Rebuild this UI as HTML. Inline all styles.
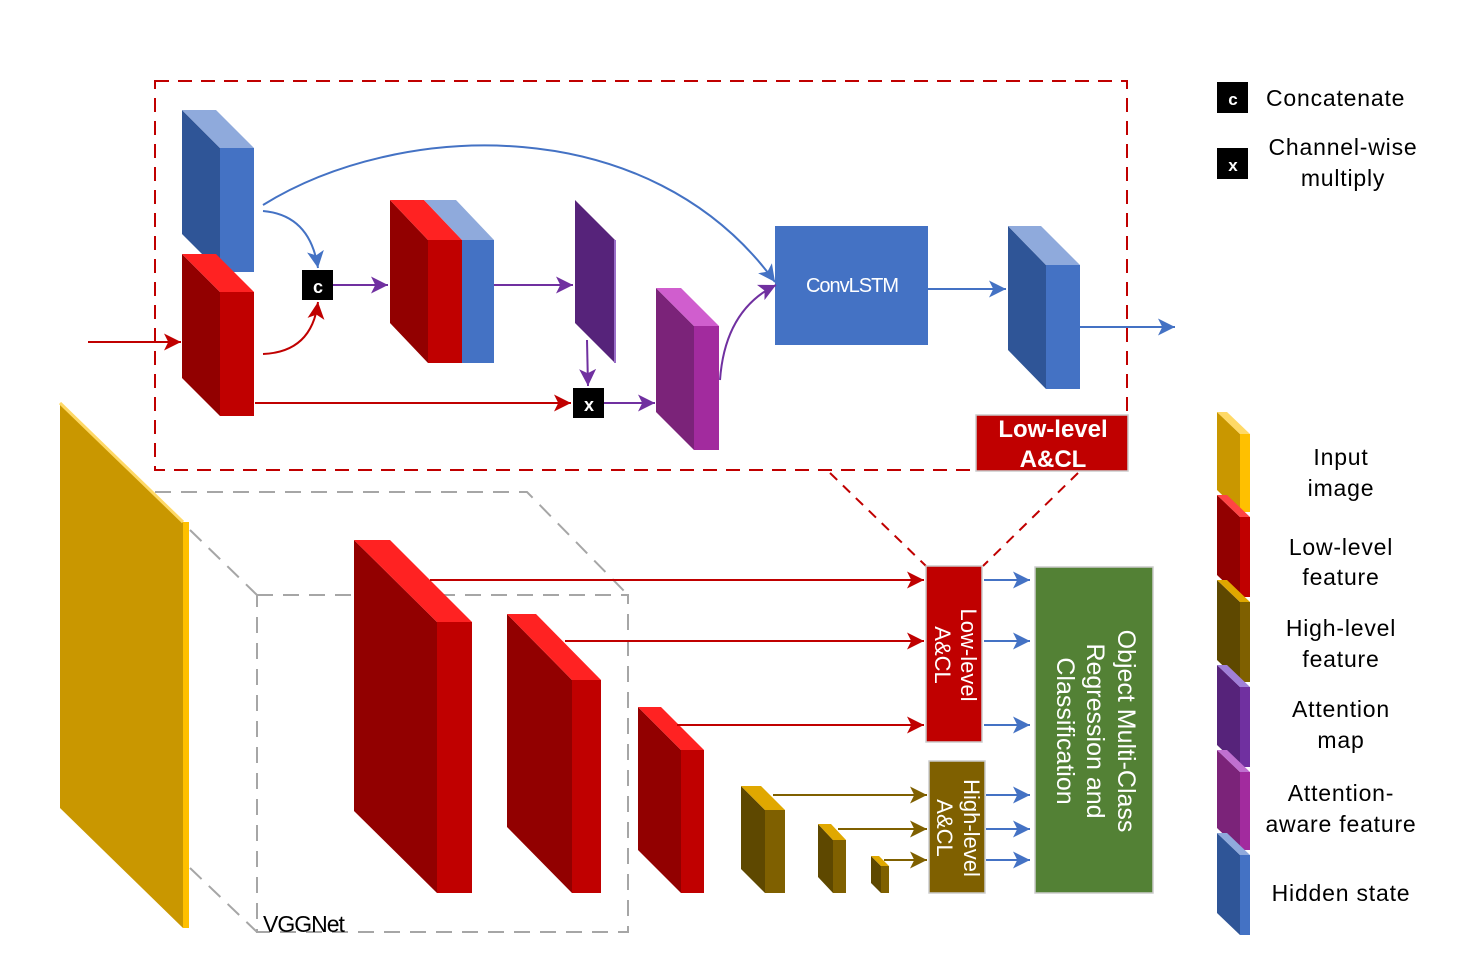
<!DOCTYPE html>
<html><head><meta charset="utf-8"><style>
html,body{margin:0;padding:0;background:#fff}
svg{display:block}
text{font-family:"Liberation Sans",sans-serif}
</style></head><body>
<svg width="1462" height="962" viewBox="0 0 1462 962" xmlns="http://www.w3.org/2000/svg">
<defs>
<marker id="ar" viewBox="0 0 10 10" refX="10" refY="5" markerWidth="17" markerHeight="17" orient="auto" markerUnits="userSpaceOnUse"><path d="M0,0 L10,5 L0,10 L2.5,5Z" fill="#C00000"/></marker>
<marker id="ab" viewBox="0 0 10 10" refX="10" refY="5" markerWidth="17" markerHeight="17" orient="auto" markerUnits="userSpaceOnUse"><path d="M0,0 L10,5 L0,10 L2.5,5Z" fill="#4472C4"/></marker>
<marker id="ap" viewBox="0 0 10 10" refX="10" refY="5" markerWidth="17" markerHeight="17" orient="auto" markerUnits="userSpaceOnUse"><path d="M0,0 L10,5 L0,10 L2.5,5Z" fill="#7030A0"/></marker>
<marker id="ag" viewBox="0 0 10 10" refX="10" refY="5" markerWidth="17" markerHeight="17" orient="auto" markerUnits="userSpaceOnUse"><path d="M0,0 L10,5 L0,10 L2.5,5Z" fill="#7F6000"/></marker>
</defs>

<rect x="155" y="81" width="972" height="389" fill="none" stroke="#C00000" stroke-width="2" stroke-dasharray="14,9"/>

<polygon points="182,110 220,148 220,272 182,234" fill="#2F5597"/>
<polygon points="182,110 216,110 254,148 220,148" fill="#8FAADC"/>
<rect x="220" y="148" width="34" height="124" fill="#4472C4"/>

<polygon points="182,254 220,292 220,416 182,378" fill="#920000"/>
<polygon points="182,254 216,254 254,292 220,292" fill="#FF2222"/>
<rect x="220" y="292" width="34" height="124" fill="#C00000"/>

<polygon points="390,200 428,240 428,363 390,323" fill="#920000"/>
<polygon points="390,200 424,200 462,240 428,240" fill="#FF2222"/>
<polygon points="424,200 456,200 494,240 462,240" fill="#8FAADC"/>
<rect x="428" y="240" width="34" height="123" fill="#C00000"/>
<rect x="462" y="240" width="32" height="123" fill="#4472C4"/>

<polygon points="575,200 615,240 615,363 575,323" fill="#56237A"/>
<line x1="615" y1="240" x2="615" y2="363" stroke="#9A6FC8" stroke-width="2"/>

<polygon points="656,288 694,326 694,450 656,412" fill="#7B2379"/>
<polygon points="656,288 681,288 719,326 694,326" fill="#D05ECE"/>
<rect x="694" y="326" width="25" height="124" fill="#A22B9E"/>

<rect x="775" y="226" width="153" height="119" fill="#4472C4"/>
<text x="852" y="292" font-size="20" fill="#fff" text-anchor="middle" letter-spacing="-1">ConvLSTM</text>

<polygon points="1008,226 1046,265 1046,389 1008,350" fill="#2F5597"/>
<polygon points="1008,226 1041,226 1080,265 1046,265" fill="#8FAADC"/>
<rect x="1046" y="265" width="34" height="124" fill="#4472C4"/>

<rect x="302" y="270" width="31" height="30" fill="#000"/>
<text x="318" y="293" font-size="18" font-weight="bold" fill="#fff" text-anchor="middle">c</text>
<rect x="573" y="388" width="31" height="30" fill="#000"/>
<text x="589" y="411" font-size="18" font-weight="bold" fill="#fff" text-anchor="middle">x</text>

<line x1="88" y1="342" x2="181" y2="342" stroke="#C00000" stroke-width="2" marker-end="url(#ar)"/>
<path d="M263,211 Q310,215 318,268" fill="none" stroke="#4472C4" stroke-width="2" marker-end="url(#ab)"/>
<path d="M263,354 Q312,352 318,302" fill="none" stroke="#C00000" stroke-width="2" marker-end="url(#ar)"/>
<path d="M263,205 C400,120 650,110 775,282" fill="none" stroke="#4472C4" stroke-width="2" marker-end="url(#ab)"/>
<path d="M720,380 Q725,310 776,285" fill="none" stroke="#7030A0" stroke-width="2" marker-end="url(#ap)"/>
<line x1="333" y1="285" x2="388" y2="285" stroke="#7030A0" stroke-width="2" marker-end="url(#ap)"/>
<line x1="494" y1="285" x2="573" y2="285" stroke="#7030A0" stroke-width="2" marker-end="url(#ap)"/>
<line x1="587" y1="340" x2="588" y2="386" stroke="#7030A0" stroke-width="2" marker-end="url(#ap)"/>
<line x1="255" y1="403" x2="571" y2="403" stroke="#C00000" stroke-width="2" marker-end="url(#ar)"/>
<line x1="604" y1="403" x2="655" y2="403" stroke="#7030A0" stroke-width="2" marker-end="url(#ap)"/>
<line x1="928" y1="289" x2="1006" y2="289" stroke="#4472C4" stroke-width="2" marker-end="url(#ab)"/>
<line x1="1080" y1="327" x2="1175" y2="327" stroke="#4472C4" stroke-width="2" marker-end="url(#ab)"/>

<rect x="976" y="415" width="152" height="56" fill="#C00000" stroke="#ccc" stroke-width="1.5"/>
<text x="1053" y="437" font-size="24" font-weight="bold" fill="#fff" text-anchor="middle">Low-level</text>
<text x="1053" y="467" font-size="24" font-weight="bold" fill="#fff" text-anchor="middle">A&amp;CL</text>
<line x1="830" y1="473" x2="926" y2="566" stroke="#C00000" stroke-width="2" stroke-dasharray="10,8"/>
<line x1="1078" y1="473" x2="983" y2="566" stroke="#C00000" stroke-width="2" stroke-dasharray="10,8"/>

<g fill="none" stroke="#A6A6A6" stroke-width="2" stroke-dasharray="16,10">
<polyline points="155,492 527,492 628,595"/>
<rect x="257" y="595" width="371" height="337"/>
<line x1="190" y1="530" x2="257" y2="595"/>
<line x1="190" y1="868" x2="257" y2="932"/>
</g>
<text x="263" y="932" font-size="23" fill="#000" letter-spacing="-1">VGGNet</text>

<polygon points="60,403 183,522 183,928 60,808" fill="#C99700"/>
<line x1="60" y1="403" x2="183" y2="522" stroke="#FFD966" stroke-width="3"/>
<rect x="183" y="522" width="6" height="406" fill="#FFC000"/>

<polygon points="354,540 437,622 437,893 354,811" fill="#920000"/>
<polygon points="354,540 390,540 472,622 437,622" fill="#FF2222"/>
<rect x="437" y="622" width="35" height="271" fill="#C00000"/>

<polygon points="507,614 572,680 572,893 507,827" fill="#920000"/>
<polygon points="507,614 536,614 601,680 572,680" fill="#FF2222"/>
<rect x="572" y="680" width="29" height="213" fill="#C00000"/>

<polygon points="638,707 681,750 681,893 638,850" fill="#920000"/>
<polygon points="638,707 661,707 704,750 681,750" fill="#FF2222"/>
<rect x="681" y="750" width="23" height="143" fill="#C00000"/>

<polygon points="741,786 765,810 765,893 741,869" fill="#5E4800"/>
<polygon points="741,786 761,786 785,810 765,810" fill="#E0A800"/>
<rect x="765" y="810" width="20" height="83" fill="#7F6000"/>

<polygon points="818,824 833,840 833,893 818,877" fill="#5E4800"/>
<polygon points="818,824 831,824 846,840 833,840" fill="#E0A800"/>
<rect x="833" y="840" width="13" height="53" fill="#7F6000"/>

<polygon points="871,856 881,866 881,893 871,883" fill="#5E4800"/>
<polygon points="871,856 879,856 889,866 881,866" fill="#E0A800"/>
<rect x="881" y="866" width="8" height="27" fill="#7F6000"/>

<line x1="430" y1="580" x2="924" y2="580" stroke="#C00000" stroke-width="2" marker-end="url(#ar)"/>
<line x1="565" y1="641" x2="924" y2="641" stroke="#C00000" stroke-width="2" marker-end="url(#ar)"/>
<line x1="677" y1="725" x2="924" y2="725" stroke="#C00000" stroke-width="2" marker-end="url(#ar)"/>
<line x1="773" y1="795" x2="927" y2="795" stroke="#7F6000" stroke-width="2" marker-end="url(#ag)"/>
<line x1="838" y1="829" x2="927" y2="829" stroke="#7F6000" stroke-width="2" marker-end="url(#ag)"/>
<line x1="884" y1="860" x2="927" y2="860" stroke="#7F6000" stroke-width="2" marker-end="url(#ag)"/>

<rect x="926" y="566" width="56" height="176" fill="#C00000" stroke="#ccc" stroke-width="1.5"/>
<text transform="translate(961,655) rotate(90)" font-size="22" fill="#fff" text-anchor="middle">Low-level</text>
<text transform="translate(935,655) rotate(90)" font-size="22" fill="#fff" text-anchor="middle">A&amp;CL</text>
<rect x="929" y="761" width="56" height="132" fill="#7F6000" stroke="#ccc" stroke-width="1.5"/>
<text transform="translate(964,828) rotate(90)" font-size="22" fill="#fff" text-anchor="middle">High-level</text>
<text transform="translate(937,828) rotate(90)" font-size="22" fill="#fff" text-anchor="middle">A&amp;CL</text>

<g stroke="#4472C4" stroke-width="2">
<line x1="984" y1="580" x2="1030" y2="580" marker-end="url(#ab)"/>
<line x1="984" y1="641" x2="1030" y2="641" marker-end="url(#ab)"/>
<line x1="984" y1="725" x2="1030" y2="725" marker-end="url(#ab)"/>
<line x1="986" y1="795" x2="1030" y2="795" marker-end="url(#ab)"/>
<line x1="986" y1="829" x2="1030" y2="829" marker-end="url(#ab)"/>
<line x1="986" y1="860" x2="1030" y2="860" marker-end="url(#ab)"/>
</g>

<rect x="1035" y="567" width="118" height="326" fill="#538135" stroke="#ccc" stroke-width="1.5"/>
<text transform="translate(1118,731) rotate(90)" font-size="25" fill="#fff" text-anchor="middle">Object Multi-Class</text>
<text transform="translate(1087,731) rotate(90)" font-size="25" fill="#fff" text-anchor="middle">Regression and</text>
<text transform="translate(1057,731) rotate(90)" font-size="25" fill="#fff" text-anchor="middle">Classification</text>

<rect x="1217" y="82" width="31" height="31" fill="#000"/>
<text x="1233" y="105" font-size="17" font-weight="bold" fill="#fff" text-anchor="middle">c</text>
<text x="1266" y="106" font-size="23" fill="#000" letter-spacing="0.8">Concatenate</text>
<rect x="1217" y="148" width="31" height="31" fill="#000"/>
<text x="1233" y="171" font-size="17" font-weight="bold" fill="#fff" text-anchor="middle">x</text>
<g font-size="23" fill="#000" text-anchor="middle" letter-spacing="0.8">
<text x="1343" y="155">Channel-wise</text>
<text x="1343" y="186">multiply</text>
</g>

<g>
<polygon points="1217,412 1240,434 1240,512 1217,490" fill="#C99700"/>
<polygon points="1217,412 1227,412 1250,434 1240,434" fill="#FFD966"/>
<rect x="1240" y="434" width="10" height="78" fill="#FFC000"/>

<polygon points="1217,495 1240,517 1240,597 1217,575" fill="#920000"/>
<polygon points="1217,495 1227,495 1250,517 1240,517" fill="#FF4444"/>
<rect x="1240" y="517" width="10" height="80" fill="#C00000"/>

<polygon points="1217,580 1240,602 1240,682 1217,660" fill="#5E4800"/>
<polygon points="1217,580 1227,580 1250,602 1240,602" fill="#E0A800"/>
<rect x="1240" y="602" width="10" height="80" fill="#7F6000"/>

<polygon points="1217,665 1240,687 1240,767 1217,745" fill="#56237A"/>
<polygon points="1217,665 1227,665 1250,687 1240,687" fill="#A07FD8"/>
<rect x="1240" y="687" width="10" height="80" fill="#7030A0"/>

<polygon points="1217,750 1240,772 1240,850 1217,828" fill="#7B2379"/>
<polygon points="1217,750 1227,750 1250,772 1240,772" fill="#C070D0"/>
<rect x="1240" y="772" width="10" height="78" fill="#A22B9E"/>

<polygon points="1217,833 1240,855 1240,935 1217,913" fill="#2F5597"/>
<polygon points="1217,833 1227,833 1250,855 1240,855" fill="#8FAADC"/>
<rect x="1240" y="855" width="10" height="80" fill="#4472C4"/>
</g>
<g font-size="23" fill="#000" text-anchor="middle" letter-spacing="0.8">
<text x="1341" y="465">Input</text><text x="1341" y="496">image</text>
<text x="1341" y="555">Low-level</text><text x="1341" y="585">feature</text>
<text x="1341" y="636">High-level</text><text x="1341" y="667">feature</text>
<text x="1341" y="717">Attention</text><text x="1341" y="748">map</text>
<text x="1341" y="801">Attention-</text><text x="1341" y="832">aware feature</text>
<text x="1341" y="901">Hidden state</text>
</g>
</svg>
</body></html>
